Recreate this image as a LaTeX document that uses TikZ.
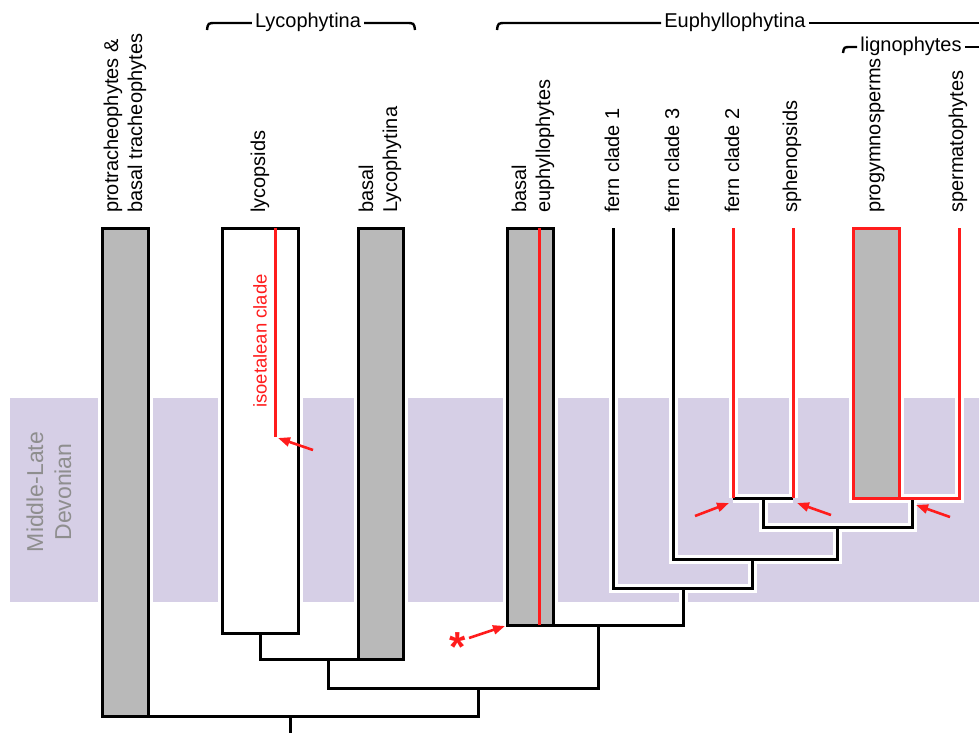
\documentclass[tikz,border=0pt]{standalone}
\usepackage{fontspec}
\setmainfont{Liberation Sans}
\usetikzlibrary{arrows.meta}
\definecolor{boxgray}{HTML}{B9B9B9}
\definecolor{bandlav}{HTML}{D6CFE6}
\definecolor{treered}{RGB}{255,28,28}
\definecolor{bandtext}{HTML}{8E8E8E}
\newcommand{\phylotree}{%
  % tracheophyte base box
  \path[gbx] (b1tl) rectangle (b1br);
  % lycopsids box
  \path[wbx] (b2tl) rectangle (b2br);
  % basal Lycophytina box
  \path[gbx] (b3tl) rectangle (b3br);
  % basal euphyllophytes box
  \path[gbx] (b4tl) rectangle (b4br);
  % progymnosperms box
  \path[rbx] (b5tl) rectangle (b5br);
  % Lycophytina node
  \path[ln] (lycb) -- (lycj) -- (b3br);
  \path[ln] (lycn) -- (lycd) -- (tracn) -- (tracu);
  \path[ln] (trch) -- (rootj) -- (b1br);
  \path[ln] (root) -- (rootend);
  % Euphyllophytina
  \path[ln] (b4br) -- (eun) -- (eud);
  \path[ln] (f1t) -- (f1b) -- (f1n) -- (f1d);
  \path[ln] (f3t) -- (f3b) -- (f3n) -- (f3d);
  \path[ln] (spl) -- (spll) -- (splr) -- (lign);
  \path[ln] (f2b) -- (sphb);
  \path[rln] (f2t) -- (f2b);
  \path[rln] (spht) -- (sphb);
  \path[rln] (b5br) -- (spb) -- (spt);
  \path[rln] (isot) -- (isob);
  \path[rln] (eut) -- (eubot);
}
\begin{document}
\begin{tikzpicture}[x=1pt,y=-1pt,
  lbl/.style={rotate=90,anchor=west,align=left,inner sep=0pt,font=\fontsize{20}{24}\selectfont},
  grp/.style={inner sep=3pt,font=\fontsize{20}{22}\selectfont},
  brk/.style={draw=black,line width=2.4pt},
  arr/.style={draw=treered,line width=2.6pt,-{Triangle[length=12pt,width=9pt]}},
  line join=miter]
\useasboundingbox (0,0) rectangle (979,732);
% band
\fill[bandlav] (10,398) rectangle (979,602);
\node[rotate=90,align=center,text=bandtext,font=\fontsize{23}{28}\selectfont] (dev) at (49,492) {Middle-Late\\Devonian};
% coordinates
\coordinate (b1tl) at (102,228); \coordinate (b1br) at (148,716);
\coordinate (b2tl) at (222,228); \coordinate (b2br) at (298,633);
\coordinate (b3tl) at (358,228); \coordinate (b3br) at (403,659);
\coordinate (b4tl) at (507,228); \coordinate (b4br) at (553,625);
\coordinate (b5tl) at (853,228); \coordinate (b5br) at (899,498);
\coordinate (lycb) at (260,633); \coordinate (lycj) at (260,659);
\coordinate (lycn) at (328,659); \coordinate (lycd) at (328,688);
\coordinate (tracn) at (598,688); \coordinate (tracu) at (598,625);
\coordinate (trch) at (478,688); \coordinate (rootj) at (478,716);
\coordinate (root) at (290,716); \coordinate (rootend) at (290,740);
\coordinate (eun) at (683,625); \coordinate (eud) at (683,588);
\coordinate (f1t) at (613,228); \coordinate (f1b) at (613,588);
\coordinate (f1n) at (752,588); \coordinate (f1d) at (752,559);
\coordinate (f3t) at (673,228); \coordinate (f3b) at (673,559);
\coordinate (f3n) at (837,559); \coordinate (f3d) at (837,527);
\coordinate (spl) at (763,498); \coordinate (spll) at (763,527);
\coordinate (splr) at (912,527); \coordinate (lign) at (912,498);
\coordinate (f2t) at (733,228); \coordinate (f2b) at (733,498);
\coordinate (spht) at (793,228); \coordinate (sphb) at (793,498);
\coordinate (spt) at (959,228); \coordinate (spb) at (959,498);
\coordinate (isot) at (275,228); \coordinate (isob) at (275,437);
\coordinate (eut) at (539,228); \coordinate (eubot) at (539,625);
% halo pass
\begin{scope}[gbx/.style={draw=white,fill=white,line width=9pt},
  wbx/.style={draw=white,fill=white,line width=9pt},
  rbx/.style={draw=white,fill=white,line width=9pt},
  ln/.style={draw=white,line width=9pt},
  rln/.style={draw=white,line width=9pt}]
\phylotree
\end{scope}
% main pass
\begin{scope}[gbx/.style={draw=black,fill=boxgray,line width=3pt},
  wbx/.style={draw=black,fill=white,line width=3pt},
  rbx/.style={draw=treered,fill=boxgray,line width=3pt},
  ln/.style={draw=black,line width=3pt},
  rln/.style={draw=treered,line width=3pt}]
\phylotree
\end{scope}
% tip labels
\node[lbl] (t1) at (125,213) {protracheophytes \&\\basal tracheophytes};
\node[lbl] (t2) at (260,213) {lycopsids};
\node[lbl] (t3) at (380,213) {basal\\Lycophytina};
\node[lbl] (t4) at (533,213) {basal\\euphyllophytes};
\node[lbl] (t5) at (612,213) {fern clade 1};
\node[lbl] (t6) at (672,213) {fern clade 3};
\node[lbl] (t7) at (732,213) {fern clade 2};
\node[lbl] (t8) at (792,213) {sphenopsids};
\node[lbl] (t9) at (877,213) {progymnosperms};
\node[lbl] (t10) at (958,213) {spermatophytes};
\node[lbl,text=treered,font=\fontsize{18.5}{22}\selectfont] (iso) at (260,408) {isoetalean clade};
% group brackets
\node[grp] (lyc) at (308,22) {Lycophytina};
\coordinate (lycL) at (207,30); \coordinate (lycR) at (415,30);
\draw[brk] (lycL) .. controls (208,23) .. (216,23) -- (lyc.west |- 0,23);
\draw[brk] (lyc.east |- 0,23) -- (406,23) .. controls (414,23) .. (lycR);
\node[grp] (euph) at (735,22) {Euphyllophytina};
\coordinate (euL) at (497,30); \coordinate (euR) at (985,23);
\draw[brk] (euL) .. controls (498,23) .. (506,23) -- (euph.west |- 0,23);
\draw[brk] (euph.east |- 0,23) -- (euR);
\node[grp] (lig) at (911,46) {lignophytes};
\coordinate (ligL) at (843,53); \coordinate (ligR) at (985,47);
\draw[brk] (ligL) .. controls (844,47) .. (851,47) -- (lig.west |- 0,47);
\draw[brk] (lig.east |- 0,47) -- (ligR);
% arrows
\coordinate (a1s) at (313,450); \coordinate (a1e) at (278,438);
\coordinate (a2s) at (469,638); \coordinate (a2e) at (505,626);
\coordinate (a3s) at (695,516); \coordinate (a3e) at (729,503);
\coordinate (a4s) at (831,515); \coordinate (a4e) at (797,503);
\coordinate (a5s) at (950,517); \coordinate (a5e) at (916,505);
\draw[arr] (a1s) -- (a1e);
\draw[arr] (a2s) -- (a2e);
\draw[arr] (a3s) -- (a3e);
\draw[arr] (a4s) -- (a4e);
\draw[arr] (a5s) -- (a5e);
\node[text=treered,font=\fontsize{42}{42}\bfseries,inner sep=0pt,anchor=north] (ast) at (458,632) {*};
\end{tikzpicture}
\end{document}
